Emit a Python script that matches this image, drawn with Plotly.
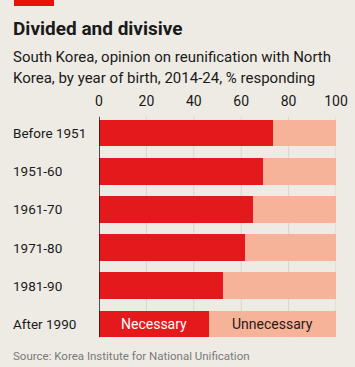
import plotly.graph_objects as go

categories = ["Before 1951", "1951-60", "1961-70", "1971-80", "1981-90", "After 1990"]
necessary = [73.3, 69.0, 65.1, 61.5, 52.4, 46.4]
unnecessary = [100 - v for v in necessary]
tick_vals = [0, 20, 40, 60, 80, 100]
tick_text = ["0", "20", "40", "60", "80", "100"]

RED = "#E3191C"
PINK = "#F7B29A"
BG = "#EDEBE4"
GRID = "#D9D5CC"
TXT = "#1A1A1A"
FONT = "Roboto"

fig = go.Figure()
fig.add_trace(go.Bar(y=categories, x=necessary, orientation="h", marker=dict(color=RED, line=dict(width=0)),
                     name="Necessary", hoverinfo="x+y"))
fig.add_trace(go.Bar(y=categories, x=unnecessary, orientation="h", marker=dict(color=PINK, line=dict(width=0)),
                     name="Unnecessary", hoverinfo="x+y"))


def px_x(px):
    return (px - 99) / 237


def px_y(py):
    return (343 - py) / 229


shapes = []
for t in tick_vals[1:]:
    shapes.append(dict(type="line", xref="x", yref="y", x0=t, x1=t, y0=-0.43, y1=5.35,
                       line=dict(color=GRID, width=1), layer="below"))
shapes.append(dict(type="line", xref="x", yref="y", x0=0, x1=0, y0=-0.43, y1=5.35,
                   line=dict(color=TXT, width=1.5), layer="above"))
shapes.append(dict(type="rect", xref="paper", yref="paper", x0=px_x(14), x1=px_x(54),
                   y0=px_y(6), y1=px_y(0), fillcolor="#E3120B", line=dict(width=0)))

last = len(categories) - 1
annotations = [
    dict(x=necessary[last] / 2, y=categories[last], text="Necessary", showarrow=False,
         font=dict(family=FONT, size=14, color="white")),
    dict(x=(necessary[last] + 100) / 2, y=categories[last], text="Unnecessary", showarrow=False,
         font=dict(family=FONT, size=14, color="#2A1A14")),
    dict(x=px_x(11), y=px_y(28), xref="paper", yref="paper", text="<b>Divided and divisive</b>",
         showarrow=False, xanchor="left", yanchor="middle", font=dict(family=FONT, size=19, color=TXT)),
    dict(x=px_x(11), y=px_y(57), xref="paper", yref="paper",
         text="South Korea, opinion on reunification with North", showarrow=False,
         xanchor="left", yanchor="middle", font=dict(family=FONT, size=15, color=TXT)),
    dict(x=px_x(11), y=px_y(78), xref="paper", yref="paper",
         text="Korea, by year of birth, 2014-24, % responding", showarrow=False,
         xanchor="left", yanchor="middle", font=dict(family=FONT, size=15, color=TXT)),
    dict(x=px_x(11), y=px_y(356), xref="paper", yref="paper",
         text="Source: Korea Institute for National Unification", showarrow=False,
         xanchor="left", yanchor="middle", font=dict(family=FONT, size=11.5, color="#7A7A7A")),
]
for c in categories:
    annotations.append(dict(x=px_x(11), y=c, xref="paper", yref="y", text=c, showarrow=False,
                            xanchor="left", yanchor="middle", font=dict(family=FONT, size=13.5, color=TXT)))

fig.update_layout(
    width=355, height=367,
    margin=dict(l=99, r=19, t=114, b=24, autoexpand=False),
    paper_bgcolor=BG, plot_bgcolor=BG,
    barmode="stack", bargap=0.3, showlegend=False,
    shapes=shapes, annotations=annotations,
    xaxis=dict(range=[0, 100], side="top", tickvals=tick_vals, ticktext=tick_text, automargin=False,
               showgrid=False, zeroline=False, showline=False, ticks="", ticklabelstandoff=4,
               tickfont=dict(family=FONT, size=14, color=TXT), fixedrange=True),
    yaxis=dict(categoryorder="array", categoryarray=categories, automargin=False,
               showticklabels=False, showgrid=False, zeroline=False, showline=False,
               range=[5.5, -0.5], fixedrange=True),
)

fig.write_html("out.html", config={"displayModeBar": False},
               post_script="document.body.style.margin='0';document.body.style.overflow='hidden';")
